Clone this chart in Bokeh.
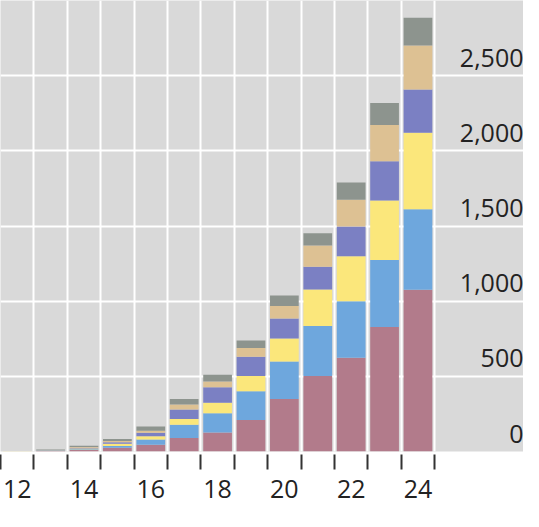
from bokeh.plotting import figure
from bokeh.models import ColumnDataSource, Range1d, FixedTicker
from bokeh.core.properties import value
from bokeh.embed import file_html
from bokeh.resources import INLINE

years = [12, 13, 14, 15, 16, 17, 18, 19, 20, 21, 22, 23, 24]
rose = [0.5, 3, 10, 25, 45, 89, 127, 210, 350, 503, 624, 828, 1076]
blue = [0.3, 2, 5, 12, 35, 89, 128, 191, 249, 331, 376, 446, 536]
yellow = [0.2, 2, 5, 15, 22, 39, 70, 102, 153, 243, 299, 395, 509]
purple = [0.2, 1, 5, 10, 22, 63, 102, 128, 133, 152, 198, 261, 287]
tan = [0.2, 1, 5, 8, 14, 32, 38, 57, 83, 141, 178, 242, 293]
gray = [0.3, 4, 8, 13, 28, 38, 45, 51, 70, 82, 115, 147, 185]

series = ["rose", "blue", "yellow", "purple", "tan", "gray"]
colors = ["#b27b8b", "#6ea7dd", "#fbe77b", "#7b80c3", "#ddc193", "#8d948e"]
y_ticks = [0, 500, 1000, 1500, 2000, 2500]
x_label_years = [12, 14, 16, 18, 20, 22, 24]

source = ColumnDataSource(dict(year=years, rose=rose, blue=blue, yellow=yellow,
                               purple=purple, tan=tan, gray=gray))

x_start = years[0] - 0.5
x_end = x_start + 15.66

p = figure(width=523, height=511, output_backend="svg", toolbar_location=None,
           x_range=Range1d(x_start, x_end), y_range=Range1d(0, 3000),
           min_border_left=0, min_border_right=0, min_border_top=0, min_border_bottom=60)
p.background_fill_color = "#d9d9d9"
p.border_fill_color = "white"
p.outline_line_color = None

p.vbar_stack(series, x="year", width=0.86, color=colors, line_color=None, source=source)

# grids
p.xgrid.ticker = FixedTicker(ticks=[y - 0.5 for y in years] + [years[-1] + 0.5])
p.ygrid.ticker = FixedTicker(ticks=y_ticks + [3000])
p.xgrid.grid_line_color = "white"
p.ygrid.grid_line_color = "white"
p.xgrid.grid_line_width = 2
p.ygrid.grid_line_width = 2
p.xgrid.level = "image"
p.ygrid.level = "image"

# x axis: labels at even years, tick marks at category boundaries
p.xaxis.ticker = FixedTicker(ticks=x_label_years,
                             minor_ticks=[y - 0.5 for y in years] + [years[-1] + 0.5])
p.xaxis.axis_line_color = None
p.xaxis.major_tick_line_color = None
p.xaxis.major_tick_out = 0
p.xaxis.major_tick_in = 0
p.xaxis.minor_tick_out = 18
p.xaxis.minor_tick_in = -3
p.xaxis.minor_tick_line_color = "#333333"
p.xaxis.minor_tick_line_width = 2
p.xaxis.major_label_standoff = 10
p.xaxis.major_label_text_font = "Open Sans"
p.xaxis.major_label_text_font_size = "25px"
p.xaxis.major_label_text_color = "#222222"

p.yaxis.visible = False

# y labels inside the plot on the right, above gridlines
lab = ColumnDataSource(dict(x=[x_end] * len(y_ticks), y=y_ticks,
                            t=["{:,}".format(v) for v in y_ticks]))
p.text(x="x", y="y", text="t", source=lab, text_align="right",
       text_baseline="alphabetic", x_offset=0, y_offset=-18,
       text_font=value("Open Sans"), text_font_size="25px", text_color="#222222")

open("out.html", "w").write(file_html(p, INLINE))
